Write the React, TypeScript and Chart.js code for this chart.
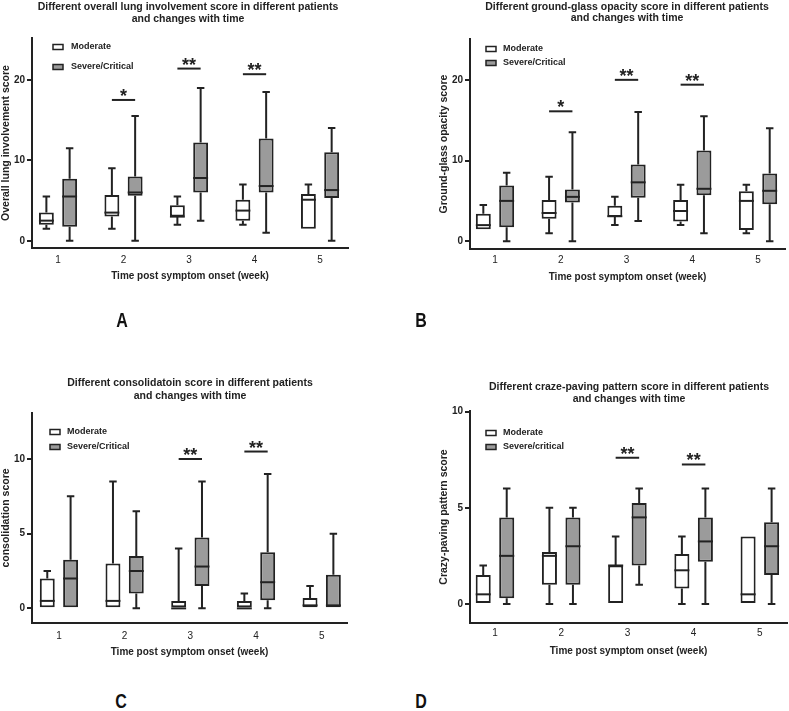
import React, { useEffect, useRef } from 'react';
import { Chart, registerables } from 'chart.js';

Chart.register(...registerables);

// ---------------- DATA ----------------
const WEEKS = [1, 2, 3, 4, 5];
const X_TITLE = 'Time post symptom onset (week)';
const GROUPS_ABC = ['Moderate', 'Severe/Critical'];
const GROUPS_D = ['Moderate', 'Severe/critical'];

// each row: [min, q1, median, q3, max] for weeks 1..5
const A_MODERATE = [
  [1.5, 2.0, 2.5, 3.5, 5.5],
  [1.5, 3.0, 3.5, 5.7, 9.0],
  [2.0, 3.0, 3.0, 4.4, 5.5],
  [2.0, 2.5, 3.75, 5.1, 7.0],
  [1.5, 1.5, 5.1, 5.8, 7.0],
];
const A_SEVERE = [
  [0, 1.75, 5.5, 7.7, 11.5],
  [0, 5.6, 6.0, 8.0, 15.5],
  [2.5, 6.0, 7.8, 12.2, 19.0],
  [1.0, 6.0, 6.8, 12.7, 18.5],
  [0, 5.3, 6.3, 11.0, 14.0],
];
const B_MODERATE = [
  [1.5, 1.5, 2.0, 3.4, 4.5],
  [1.0, 2.8, 3.5, 5.1, 8.0],
  [2.0, 3.0, 3.1, 4.4, 5.5],
  [2.0, 2.45, 3.75, 5.1, 7.0],
  [1.0, 1.4, 5.0, 6.2, 7.0],
];
const B_SEVERE = [
  [0, 1.75, 5.0, 6.9, 8.5],
  [0, 4.8, 5.5, 6.4, 13.5],
  [2.5, 5.4, 7.3, 9.5, 16.0],
  [1.0, 5.7, 6.5, 11.25, 15.5],
  [0, 4.6, 6.25, 8.4, 14.0],
];
const C_MODERATE = [
  [0, 0, 0.5, 2.0, 2.5],
  [0, 0, 0.5, 3.0, 8.5],
  [0, 0, 0, 0.5, 4.0],
  [0, 0, 0, 0.5, 1.0],
  [0, 0, 0.2, 0.7, 1.5],
];
const C_SEVERE = [
  [0, 0, 2.0, 3.25, 7.5],
  [0, 1.0, 2.5, 3.5, 6.5],
  [0, 1.5, 2.8, 4.75, 8.5],
  [0, 0.55, 1.75, 3.75, 9.0],
  [0, 0, 0.2, 2.25, 5.0],
];
const D_MODERATE = [
  [0, 0, 0.5, 1.5, 2.0],
  [0, 1.0, 2.5, 2.7, 5.0],
  [0, 0, 2.0, 2.0, 3.5],
  [0, 0.8, 1.75, 2.6, 3.5],
  [0, 0, 0.5, 3.5, 3.5],
];
const D_SEVERE = [
  [0, 0.3, 2.5, 4.5, 6.0],
  [0, 1.0, 3.0, 4.5, 5.0],
  [1.0, 2.0, 4.5, 5.25, 6.0],
  [0, 2.2, 3.25, 4.5, 6.0],
  [0, 1.5, 3.0, 4.25, 6.0],
];

const A_SIG_WEEKS = [2, 3, 4];
const A_SIG_LABELS = ['*', '**', '**'];
const A_SIG_Y = [17.5, 21.4, 20.7];
const B_SIG_WEEKS = [2, 3, 4];
const B_SIG_LABELS = ['*', '**', '**'];
const B_SIG_Y = [16.1, 20.0, 19.4];
const C_SIG_WEEKS = [3, 4];
const C_SIG_LABELS = ['**', '**'];
const C_SIG_Y = [10.0, 10.5];
const D_SIG_WEEKS = [3, 4];
const D_SIG_LABELS = ['**', '**'];
const D_SIG_Y = [7.6, 7.25];

const A_Y_TICKS = [0, 10, 20];
const B_Y_TICKS = [0, 10, 20];
const C_Y_TICKS = [0, 5, 10];
const D_Y_TICKS = [0, 5, 10];

// ---------------- STYLE / LAYOUT ----------------
const INK = '#222222';
const FILLS = ['#ffffff', '#9b9b9b'];
const FONT = '"Liberation Sans", Arial, Helvetica, sans-serif';

type Panel = {
  key: string;
  letter: string;
  letterPos: [number, number];
  canvas: { left: number; top: number; w: number; h: number };
  area: { l: number; r: number; t: number; b: number };
  yMin: number; yMax: number; xMin: number; xMax: number;
  yTicks: number[];
  yTitle: string;
  title: string[]; titleX: number; titleY: number[];
  groups: string[];
  stats: number[][][];
  sigWeeks: number[]; sigLabels: string[]; sigY: number[];
  xTitleY: number; xTickPad: number;
  legend: { x: number; y: number[]; textX: number };
};

const PANELS: Panel[] = [
  {
    key: 'A', letter: 'A', letterPos: [122, 319.5],
    canvas: { left: 0, top: 0, w: 392, h: 300 },
    area: { l: 32, r: 348, t: 38, b: 248 },
    yMin: -0.9, yMax: 25.2, xMin: 0.603, xMax: 5.427,
    yTicks: A_Y_TICKS,
    yTitle: 'Overall lung involvement score',
    title: ['Different overall lung involvement score in different patients', 'and changes with time'],
    titleX: 188, titleY: [7, 19],
    groups: GROUPS_ABC, stats: [A_MODERATE, A_SEVERE],
    sigWeeks: A_SIG_WEEKS, sigLabels: A_SIG_LABELS, sigY: A_SIG_Y,
    xTitleY: 276, xTickPad: 6,
    legend: { x: 53, y: [47, 67], textX: 71 },
  },
  {
    key: 'B', letter: 'B', letterPos: [421, 319.5],
    canvas: { left: 392, top: 0, w: 397, h: 300 },
    area: { l: 470, r: 785, t: 39, b: 249 },
    yMin: -0.96, yMax: 25.06, xMin: 0.62, xMax: 5.41,
    yTicks: B_Y_TICKS,
    yTitle: 'Ground-glass opacity score',
    title: ['Different ground-glass opacity score in different patients', 'and changes with time'],
    titleX: 627, titleY: [7, 18.5],
    groups: GROUPS_ABC, stats: [B_MODERATE, B_SEVERE],
    sigWeeks: B_SIG_WEEKS, sigLabels: B_SIG_LABELS, sigY: B_SIG_Y,
    xTitleY: 277.5, xTickPad: 5,
    legend: { x: 486, y: [49, 63], textX: 503 },
  },
  {
    key: 'C', letter: 'C', letterPos: [121, 701],
    canvas: { left: 0, top: 330, w: 392, h: 340 },
    area: { l: 32, r: 347, t: 413, b: 623 },
    yMin: -0.98, yMax: 13.08, xMin: 0.59, xMax: 5.385,
    yTicks: C_Y_TICKS,
    yTitle: 'consolidation score',
    title: ['Different consolidatoin score in different patients', 'and changes with time'],
    titleX: 190, titleY: [383, 396],
    groups: GROUPS_ABC, stats: [C_MODERATE, C_SEVERE],
    sigWeeks: C_SIG_WEEKS, sigLabels: C_SIG_LABELS, sigY: C_SIG_Y,
    xTitleY: 652, xTickPad: 7,
    legend: { x: 50, y: [432, 447], textX: 67 },
  },
  {
    key: 'D', letter: 'D', letterPos: [421, 701],
    canvas: { left: 392, top: 330, w: 397, h: 340 },
    area: { l: 470, r: 787, t: 411, b: 623 },
    yMin: -0.99, yMax: 10.03, xMin: 0.623, xMax: 5.41,
    yTicks: D_Y_TICKS,
    yTitle: 'Crazy-paving pattern score',
    title: ['Different craze-paving pattern score in different patients', 'and changes with time'],
    titleX: 629, titleY: [387, 399],
    groups: GROUPS_D, stats: [D_MODERATE, D_SEVERE],
    sigWeeks: D_SIG_WEEKS, sigLabels: D_SIG_LABELS, sigY: D_SIG_Y,
    xTitleY: 651, xTickPad: 4,
    legend: { x: 486, y: [433, 447], textX: 503 },
  },
];

const Y_AXIS_W = 32;

function makePlugin(p: Panel) {
  const ox = p.canvas.left;
  const oy = p.canvas.top;
  return {
    id: 'boxplot' + p.key,
    beforeDatasetsDraw(chart: any) {
      const ctx = chart.ctx;
      const ys = chart.scales.y;
      ctx.save();
      ctx.strokeStyle = INK;
      ctx.lineWidth = 2;
      chart.data.datasets.forEach((_ds: any, di: number) => {
        const meta = chart.getDatasetMeta(di);
        meta.data.forEach((el: any, j: number) => {
          const s = p.stats[di][j];
          const { x, width } = el.getProps(['x', 'width'], true);
          const cap = width * 0.5;
          const seg = (from: number, to: number) => {
            if (from === to) return;
            const pa = ys.getPixelForValue(from);
            const pb = ys.getPixelForValue(to);
            ctx.beginPath();
            ctx.moveTo(x, pa);
            ctx.lineTo(x, pb);
            ctx.moveTo(x - cap / 2, pb);
            ctx.lineTo(x + cap / 2, pb);
            ctx.stroke();
          };
          seg(s[3], s[4]);
          seg(s[1], s[0]);
        });
      });
      ctx.restore();
    },
    afterDatasetsDraw(chart: any) {
      const ctx = chart.ctx;
      const ys = chart.scales.y;
      ctx.save();
      ctx.strokeStyle = INK;
      ctx.lineWidth = 2;
      // medians
      chart.data.datasets.forEach((_ds: any, di: number) => {
        const meta = chart.getDatasetMeta(di);
        meta.data.forEach((el: any, j: number) => {
          const s = p.stats[di][j];
          const { x, width } = el.getProps(['x', 'width'], true);
          const py = ys.getPixelForValue(s[2]);
          ctx.beginPath();
          ctx.moveTo(x - width / 2, py);
          ctx.lineTo(x + width / 2, py);
          ctx.stroke();
        });
      });
      // significance markers
      const m0 = chart.getDatasetMeta(0);
      const m1 = chart.getDatasetMeta(1);
      p.sigWeeks.forEach((wk, k) => {
        const j = WEEKS.indexOf(wk);
        const x0 = m0.data[j].getProps(['x'], true).x;
        const x1 = m1.data[j].getProps(['x'], true).x;
        const py = ys.getPixelForValue(p.sigY[k]);
        ctx.beginPath();
        ctx.moveTo(x0, py);
        ctx.lineTo(x1, py);
        ctx.stroke();
        ctx.fillStyle = INK;
        ctx.font = `bold 18px ${FONT}`;
        ctx.textAlign = 'center';
        ctx.textBaseline = 'alphabetic';
        ctx.fillText(p.sigLabels[k], (x0 + x1) / 2, py + 2);
      });
      // legend
      p.groups.forEach((g, gi) => {
        const ly = p.legend.y[gi] - oy;
        const lx = p.legend.x - ox;
        ctx.fillStyle = FILLS[gi];
        ctx.fillRect(lx, ly - 2.5, 10, 5);
        ctx.lineWidth = 1.5;
        ctx.strokeStyle = INK;
        ctx.strokeRect(lx, ly - 2.5, 10, 5);
        ctx.fillStyle = INK;
        ctx.font = `bold 9px ${FONT}`;
        ctx.textAlign = 'left';
        ctx.textBaseline = 'middle';
        ctx.fillText(g, p.legend.textX - ox, ly);
      });
      ctx.restore();
    },
    afterDraw(chart: any) {
      const ctx = chart.ctx;
      ctx.save();
      ctx.fillStyle = INK;
      ctx.font = `bold 10.5px ${FONT}`;
      ctx.textAlign = 'center';
      ctx.textBaseline = 'middle';
      p.title.forEach((t, i) => ctx.fillText(t, p.titleX - ox, p.titleY[i] - oy));
      ctx.restore();
    },
  };
}

function BoxPanel({ p }: { p: Panel }) {
  const ref = useRef<HTMLCanvasElement | null>(null);
  useEffect(() => {
    if (!ref.current) return;
    const xH = p.xTitleY + 6 - p.area.b;
    const padding = {
      left: p.area.l - Y_AXIS_W - p.canvas.left,
      right: p.canvas.left + p.canvas.w - p.area.r,
      top: p.area.t - p.canvas.top,
      bottom: p.canvas.top + p.canvas.h - p.area.b - xH,
    };
    const chart = new Chart(ref.current, {
      type: 'bar',
      data: {
        datasets: p.groups.map((g, gi) => ({
          label: g,
          data: WEEKS.map((w, j) => ({ x: w, y: [p.stats[gi][j][1], p.stats[gi][j][3]] })),
          backgroundColor: FILLS[gi],
          borderColor: INK,
          borderWidth: 2,
          borderSkipped: false,
          categoryPercentage: 0.71,
          barPercentage: 0.64,
        })),
      },
      options: {
        animation: false,
        responsive: false,
        maintainAspectRatio: false,
        events: [],
        layout: { padding },
        plugins: {
          legend: { display: false },
          tooltip: { enabled: false },
          title: { display: false },
        },
        scales: {
          x: {
            type: 'linear',
            offset: false,
            min: p.xMin,
            max: p.xMax,
            afterBuildTicks: (s: any) => { s.ticks = WEEKS.map((v) => ({ value: v })); },
            afterFit: (s: any) => { s.height = xH; },
            grid: { display: false, drawTicks: false, tickLength: 0 },
            border: { display: true, color: INK, width: 2 },
            ticks: {
              color: INK,
              font: { family: FONT, size: 10 },
              padding: p.xTickPad,
              maxRotation: 0,
              autoSkip: false,
              callback: (v: any) => String(v),
            },
            title: {
              display: true,
              text: X_TITLE,
              color: INK,
              font: { family: FONT, size: 10, weight: 'bold' },
              padding: 0,
            },
          },
          y: {
            type: 'linear',
            min: p.yMin,
            max: p.yMax,
            afterBuildTicks: (s: any) => { s.ticks = p.yTicks.map((v) => ({ value: v })); },
            afterFit: (s: any) => { s.width = Y_AXIS_W; },
            grid: {
              display: true,
              drawOnChartArea: false,
              drawTicks: true,
              tickLength: 5,
              color: INK,
              lineWidth: 2,
            },
            border: { display: true, color: INK, width: 2 },
            ticks: {
              color: INK,
              font: { family: FONT, size: 10, weight: 'bold' },
              padding: 2,
              autoSkip: false,
              callback: (v: any) => String(v),
            },
            title: {
              display: true,
              text: p.yTitle,
              color: INK,
              font: { family: FONT, size: 10.5, weight: 'bold' },
              padding: 0,
            },
          },
        },
      } as any,
      plugins: [makePlugin(p)],
    });
    return () => chart.destroy();
  }, [p]);
  return (
    <canvas
      ref={ref}
      width={p.canvas.w}
      height={p.canvas.h}
      style={{
        position: 'absolute',
        left: p.canvas.left,
        top: p.canvas.top,
        width: p.canvas.w,
        height: p.canvas.h,
      }}
    />
  );
}

export default function App() {
  return (
    <div style={{ position: 'absolute', left: 0, top: 0, width: 789, height: 711, background: '#fff', overflow: 'hidden' }}>
      {PANELS.map((p) => (
        <BoxPanel key={p.key} p={p} />
      ))}
      {PANELS.map((p) => (
        <div
          key={'L' + p.key}
          style={{
            position: 'absolute',
            left: p.letterPos[0],
            top: p.letterPos[1],
            transform: 'translate(-50%, -50%) scaleX(0.8)',
            fontFamily: FONT,
            fontWeight: 'bold',
            fontSize: 20,
            lineHeight: 1,
            color: '#111',
          }}
        >
          {p.letter}
        </div>
      ))}
    </div>
  );
}
